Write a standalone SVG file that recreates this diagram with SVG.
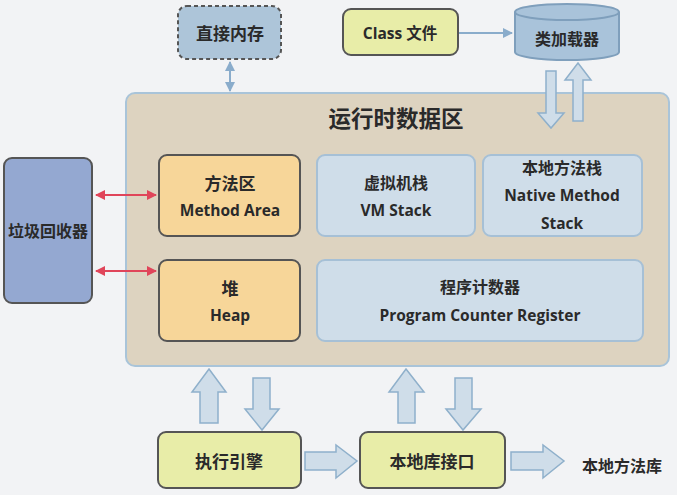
<svg xmlns="http://www.w3.org/2000/svg" width="677" height="495" viewBox="0 0 677 495">
<style>
text{font-family:"Open Sans","Noto Sans CJK SC",sans-serif;font-weight:bold;fill:#2a2a2a;text-anchor:middle;dominant-baseline:central}
.t16{font-size:16px}
.t15{font-size:15.5px}
.c17{font-size:17px}
.dark{stroke:#555;stroke-width:2}
.inner{fill:#cfdde9;stroke:#a6c0d6;stroke-width:2}
.fat{fill:#cfdde9;stroke:#8fb0cb;stroke-width:1.5;stroke-linejoin:miter}
.thin{stroke:#8aaccb;stroke-width:2;fill:none}
.red{stroke:#e0455a;stroke-width:2;fill:none}
</style>
<defs>
<marker id="ab" viewBox="0 0 10 10" refX="9" refY="5" markerWidth="5" markerHeight="5" orient="auto-start-reverse"><path d="M0,0L10,5L0,10z" fill="#8aaccb"/></marker>
<marker id="ar" viewBox="0 0 10 10" refX="9" refY="5" markerWidth="5" markerHeight="5" orient="auto-start-reverse"><path d="M0,0L10,5L0,10z" fill="#e0455a"/></marker>
</defs>
<rect width="677" height="495" fill="#f2f3f5"/>

<g id="runtime-area">
<rect x="126" y="93" width="543" height="273" rx="9" fill="#ddd3c0" stroke="#a9c4d9" stroke-width="2"/>
<text x="396" y="118" style="font-size:22.5px">运行时数据区</text>
</g>

<g id="direct-memory">
<rect x="178" y="6" width="103" height="53" rx="9" fill="#adc5d9" stroke="#555" stroke-width="2" stroke-dasharray="4 3"/>
<text class="c17" x="230" y="33">直接内存</text>
</g>

<g id="class-file">
<rect x="343" y="9" width="115" height="46" rx="8" fill="#e8eda8" class="dark"/>
<text class="t15" x="400" y="33">Class 文件</text>
</g>

<g id="class-loader">
<path d="M515,12 L515,52 A52,8 0 0 0 619,52 L619,12" fill="#a9c3da" stroke="#7f9fbc" stroke-width="2"/>
<ellipse cx="567" cy="12" rx="52" ry="8" fill="#a9c3da" stroke="#7f9fbc" stroke-width="2"/>
<text class="t16" x="567" y="39">类加载器</text>
</g>

<g id="gc">
<rect x="4" y="158" width="88" height="145" rx="8" fill="#94a8d1" class="dark"/>
<text class="t16" x="48" y="231">垃圾回收器</text>
</g>

<g id="method-area">
<rect x="159" y="155" width="141" height="81" rx="8" fill="#f7d699" class="dark"/>
<text class="c17" x="230" y="183">方法区</text>
<text class="t15" x="230" y="210">Method Area</text>
</g>

<g id="heap">
<rect x="159" y="260" width="141" height="81" rx="8" fill="#f7d699" class="dark"/>
<text class="c17" x="230" y="288">堆</text>
<text class="t15" x="230" y="315">Heap</text>
</g>

<g id="vm-stack">
<rect x="317" y="155" width="158" height="81" rx="8" class="inner"/>
<text class="t16" x="396" y="183">虚拟机栈</text>
<text class="t15" x="396" y="210">VM Stack</text>
</g>

<g id="native-stack">
<rect x="483" y="155" width="159" height="81" rx="8" class="inner"/>
<text class="t16" x="562" y="168">本地方法栈</text>
<text class="t15" x="562" y="195">Native Method</text>
<text class="t15" x="562" y="223">Stack</text>
</g>

<g id="pc-register">
<rect x="317" y="260" width="326" height="81" rx="8" class="inner"/>
<text class="t16" x="480" y="287">程序计数器</text>
<text class="t15" x="480" y="315">Program Counter Register</text>
</g>

<g id="exec-engine">
<rect x="158" y="432" width="143" height="56" rx="8" fill="#e8eda8" class="dark"/>
<text class="c17" x="229" y="461">执行引擎</text>
</g>

<g id="native-interface">
<rect x="360" y="432" width="145" height="56" rx="8" fill="#e8eda8" class="dark"/>
<text class="c17" x="432" y="461">本地库接口</text>
</g>

<g id="native-lib">
<text class="t16" x="622" y="466">本地方法库</text>
</g>

<g id="connectors">
<line class="thin" x1="459" y1="33" x2="512" y2="33" marker-end="url(#ab)"/>
<line class="thin" x1="230" y1="62" x2="230" y2="91" marker-start="url(#ab)" marker-end="url(#ab)"/>
<line class="red" x1="96" y1="195" x2="156" y2="195" marker-start="url(#ar)" marker-end="url(#ar)"/>
<line class="red" x1="96" y1="271" x2="156" y2="271" marker-start="url(#ar)" marker-end="url(#ar)"/>
<polygon class="fat" points="546,71 556,71 556,113 564,113 551,128 538,113 546,113"/>
<polygon class="fat" points="578,63 591,80 583,80 583,121 573,121 573,80 565,80"/>
<polygon class="fat" points="209,369 226,392 218,392 218,423 200,423 200,392 192,392"/>
<polygon class="fat" points="253,378 270,378 270,409 279,409 262,430 245,409 253,409"/>
<polygon class="fat" points="406,369 424,392 415,392 415,423 398,423 398,392 389,392"/>
<polygon class="fat" points="455,378 472,378 472,409 481,409 463,430 446,409 455,409"/>
<polygon class="fat" points="305,452 336,452 336,445 357,461 336,478 336,470 305,470"/>
<polygon class="fat" points="511,452 543,452 543,445 564,461 543,478 543,470 511,470"/>
</g>
</svg>
